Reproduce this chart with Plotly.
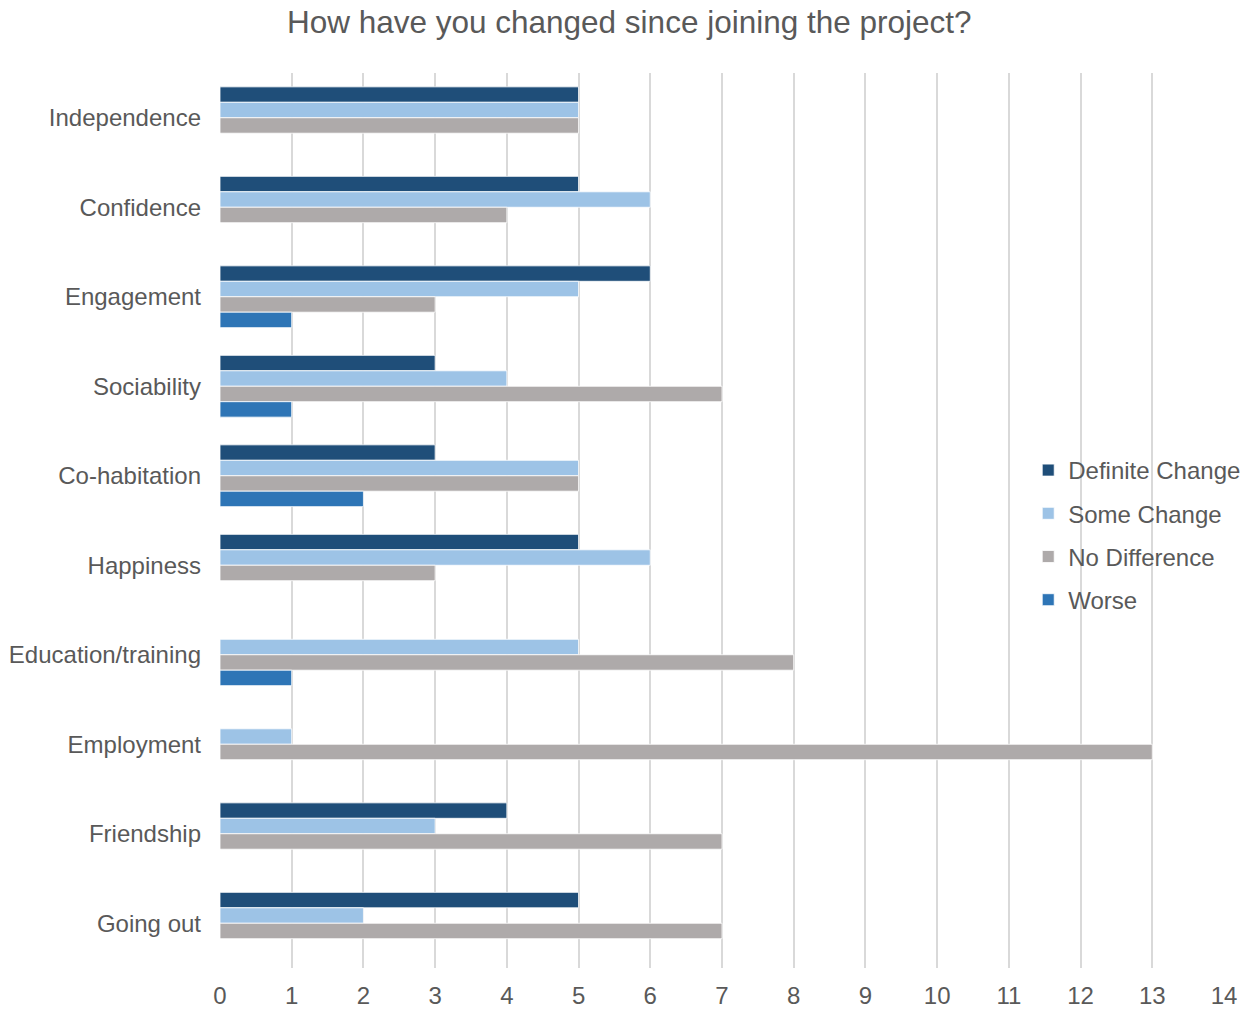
import plotly.graph_objects as go

categories = ["Independence", "Confidence", "Engagement", "Sociability", "Co-habitation",
              "Happiness", "Education/training", "Employment", "Friendship", "Going out"]

definite_change = [5, 5, 6, 3, 3, 5, 0, 0, 4, 5]
some_change = [5, 6, 5, 4, 5, 6, 5, 1, 3, 2]
no_difference = [5, 4, 3, 7, 5, 3, 8, 13, 7, 7]
worse = [0, 0, 1, 1, 2, 0, 1, 0, 0, 0]

x_ticks = list(range(0, 15))

series = [
    ("Definite Change", definite_change, "#1F4E79"),
    ("Some Change", some_change, "#9DC3E6"),
    ("No Difference", no_difference, "#AEAAAA"),
    ("Worse", worse, "#2E75B6"),
]

text_color = "#595959"
font_family = "Liberation Sans, Arial, sans-serif"

fig = go.Figure()
for name, values, color in series:
    fig.add_trace(go.Bar(
        y=categories,
        x=values,
        name=name,
        orientation="h",
        legendgroup=name,
        marker=dict(color=color, line=dict(color="white", width=0.8)),
    ))

fig.update_layout(
    width=1251,
    height=1010,
    barmode="group",
    bargap=0.31,
    bargroupgap=0,
    paper_bgcolor="white",
    plot_bgcolor="white",
    margin=dict(l=220, r=27, t=73, b=42, autoexpand=False),
    font=dict(family=font_family, color=text_color, size=24),
    title=dict(
        text="How have you changed since joining the project?",
        x=0.503,
        xanchor="center",
        y=0.978,
        yanchor="middle",
        font=dict(size=31.5, color=text_color, family=font_family),
    ),
    legend=dict(
        x=0.805,
        y=0.581,
        xanchor="left",
        yanchor="top",
        bgcolor="rgba(0,0,0,0)",
        font=dict(size=24, color=text_color),
        tracegroupgap=9,
        traceorder="grouped",
    ),
    showlegend=True,
)

fig.update_xaxes(
    range=[0, 14],
    tickvals=x_ticks,
    ticktext=[str(v) for v in x_ticks],
    showgrid=True,
    gridcolor="#D9D9D9",
    gridwidth=2,
    zeroline=False,
    showline=False,
    ticks="",
    ticklabelstandoff=11,
    automargin=False,
    tickfont=dict(size=24, color=text_color),
)

fig.update_yaxes(
    autorange="reversed",
    showgrid=False,
    zeroline=False,
    showline=False,
    ticks="",
    ticklabelstandoff=18,
    automargin=False,
    tickfont=dict(size=24, color=text_color),
)

fig.write_html("out.html")
